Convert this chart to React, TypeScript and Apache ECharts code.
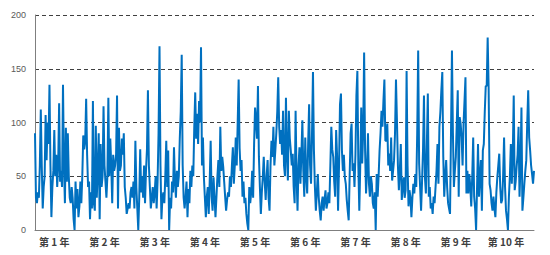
import React, { useEffect, useRef } from "react";
import * as echarts from "echarts";

const yearLabels = ["第 1 年", "第 2 年", "第 3 年", "第 4 年", "第 5 年", "第 6 年", "第 7 年", "第 8 年", "第 9 年", "第 10 年"];

const year1 = [90, 30, 25, 35, 30, 60, 112, 60, 20, 40, 50, 107, 65, 100, 80, 135, 60, 12, 40, 55, 93, 50, 70, 40, 60, 118, 45, 55, 40, 135, 60, 25, 95, 45, 90, 50, 30, 25, 40, 30, 10, 0, 45, 20, 38, 12, 22, 45, 25, 50, 88, 75];
const year2 = [82, 122, 70, 40, 45, 10, 35, 20, 120, 25, 18, 97, 30, 55, 90, 10, 80, 40, 50, 115, 60, 45, 30, 50, 123, 50, 85, 60, 25, 70, 55, 60, 70, 125, 20, 95, 55, 60, 85, 70, 90, 40, 30, 15, 20, 25, 20, 35, 40, 30, 45, 20];
const year3 = [83, 40, 20, 0, 30, 75, 35, 50, 30, 60, 25, 55, 75, 130, 60, 40, 20, 30, 40, 25, 35, 50, 20, 45, 90, 171, 60, 10, 30, 35, 25, 50, 83, 40, 74, 0, 30, 20, 45, 35, 77, 45, 30, 55, 40, 50, 85, 110, 163, 60, 30, 20];
const year4 = [31, 45, 12, 38, 25, 55, 40, 60, 50, 95, 128, 85, 108, 80, 120, 100, 170, 60, 86, 49, 30, 12, 31, 40, 15, 45, 83, 31, 18, 49, 30, 12, 31, 50, 65, 40, 96, 55, 68, 59, 45, 31, 18, 28, 35, 31, 50, 40, 60, 77, 43, 60];
const year5 = [86, 60, 100, 140, 76, 55, 65, 31, 45, 25, 30, 15, 6, 0, 40, 25, 35, 55, 30, 80, 114, 102, 85, 134, 68, 40, 15, 35, 49, 68, 45, 28, 50, 65, 30, 18, 60, 83, 68, 96, 60, 74, 90, 110, 142, 96, 80, 93, 70, 111, 60, 50];
const year6 = [123, 70, 46, 111, 85, 74, 60, 71, 40, 25, 111, 50, 18, 60, 77, 43, 70, 102, 55, 31, 86, 50, 34, 80, 117, 60, 43, 90, 147, 74, 40, 18, 35, 52, 30, 18, 9, 25, 31, 18, 28, 37, 20, 25, 35, 25, 60, 96, 75, 68, 45, 31];
const year7 = [93, 68, 18, 60, 117, 127, 74, 55, 70, 49, 43, 28, 18, 9, 50, 90, 99, 55, 62, 40, 70, 125, 148, 60, 18, 60, 114, 62, 90, 165, 74, 34, 55, 90, 43, 31, 50, 43, 25, 20, 35, 0, 52, 31, 50, 74, 90, 111, 96, 120, 140, 83];
const year8 = [83, 99, 60, 71, 55, 86, 46, 55, 65, 90, 140, 102, 60, 37, 55, 80, 28, 40, 49, 30, 37, 148, 60, 22, 37, 30, 12, 30, 43, 34, 52, 40, 90, 167, 62, 40, 18, 45, 74, 125, 49, 34, 80, 127, 31, 40, 20, 25, 15, 31, 25, 40];
const year9 = [55, 80, 43, 96, 110, 130, 147, 68, 31, 50, 65, 40, 25, 20, 15, 90, 167, 90, 40, 55, 68, 100, 130, 31, 105, 99, 86, 60, 99, 120, 142, 34, 55, 34, 52, 40, 22, 50, 86, 31, 20, 0, 40, 80, 31, 50, 65, 18, 74, 80, 110, 134];
const year10 = [134, 179, 133, 43, 37, 25, 18, 31, 20, 12, 35, 49, 60, 71, 40, 25, 28, 50, 86, 40, 18, 10, 0, 31, 50, 80, 43, 70, 125, 37, 45, 59, 70, 96, 31, 60, 114, 18, 30, 43, 55, 65, 100, 130, 86, 74, 60, 52, 43, 55];

const years = [year1, year2, year3, year4, year5, year6, year7, year8, year9, year10];

export default function App() {
  const ref = useRef<HTMLDivElement>(null);
  useEffect(() => {
    if (!ref.current) return;
    const chart = echarts.init(ref.current, undefined, { renderer: "svg" });
    const categories: string[] = [];
    const values: number[] = [];
    years.forEach((arr, yi) => {
      arr.forEach((v, wi) => {
        categories.push(yearLabels[yi] + "|" + wi);
        values.push(v);
      });
    });
    chart.setOption({
      animation: false,
      grid: { left: 35, right: 16, top: 15, bottom: 25, containLabel: false },
      xAxis: {
        type: "category",
        data: categories,
        boundaryGap: false,
        axisLine: { show: true, lineStyle: { color: "#7f7f7f", width: 1 } },
        axisTick: { show: false },
        splitLine: { show: false },
        axisLabel: {
          interval: (index: number) => index % 52 === 20,
          formatter: (value: string) => value.split("|")[0],
          color: "#404040",
          fontSize: 10,
          fontWeight: "bold",
          fontFamily: "Noto Sans CJK SC",
          margin: 6,
        },
      },
      yAxis: {
        type: "value",
        min: 0,
        max: 200,
        interval: 50,
        axisLine: { show: true, lineStyle: { color: "#7f7f7f", width: 1 } },
        axisTick: { show: false },
        splitLine: { show: true, lineStyle: { color: "#404040", type: [4, 3], width: 1 } },
        axisLabel: { color: "#595959", fontSize: 9, fontFamily: "Liberation Sans", margin: 9 },
      },
      series: [
        {
          type: "line",
          data: values,
          symbol: "none",
          lineStyle: { color: "#0070C0", width: 2 },
          itemStyle: { color: "#0070C0" },
        },
      ],
    });
    return () => chart.dispose();
  }, []);
  return <div ref={ref} style={{ position: "fixed", left: 0, top: 0, width: 550, height: 255, background: "#fff" }} />;
}
